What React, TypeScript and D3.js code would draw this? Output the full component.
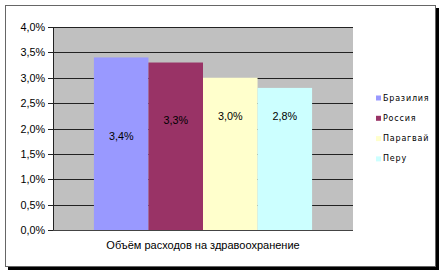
import React from "react";
import * as d3 from "d3";

const categories = ["Объём расходов на здравоохранение"];
const seriesNames = ["Бразилия", "Россия", "Парагвай", "Перу"];
const seriesValues = [0.034, 0.033, 0.03, 0.028];
const labelAnchors = [0.0185, 0.0217, 0.0225, 0.0225];
const seriesColors = ["#9999FF", "#993366", "#FFFFCC", "#CCFFFF"];
const yTicks = [0, 0.005, 0.01, 0.015, 0.02, 0.025, 0.03, 0.035, 0.04];

const W = 443;
const H = 273;
const plot = { left: 53, right: 353, top: 27, bottom: 230 };

const fmt = (v: number) => (v * 100).toFixed(1).replace(".", ",") + "%";

export default function App() {
  const y = d3.scaleLinear().domain([0, 0.04]).range([plot.bottom, plot.top]);
  const x0 = d3.scaleBand<string>().domain(categories).range([plot.left, plot.right]);
  const x1 = d3
    .scaleBand<string>()
    .domain(seriesNames)
    .range([0, x0.bandwidth()])
    .paddingInner(0)
    .paddingOuter(0.75);
  const font = "'Liberation Sans', Arial, sans-serif";
  return (
    <svg
      width={W}
      height={H}
      style={{ position: "absolute", left: 0, top: 0, background: "#fff" }}
    >
      {/* chart border with shadow */}
      <rect x={8} y={8} width={431} height={262} fill="#000" />
      <rect x={5.5} y={5.5} width={430} height={261} fill="#fff" stroke="#666" strokeWidth={1} />
      {/* plot area */}
      <rect
        x={plot.left}
        y={plot.top}
        width={plot.right - plot.left}
        height={plot.bottom - plot.top}
        fill="#C0C0C0"
      />
      {yTicks.map((t) => (
        <line
          key={"g" + t}
          x1={plot.left - 5}
          x2={plot.right}
          y1={Math.round(y(t)) + 0.5}
          y2={Math.round(y(t)) + 0.5}
          stroke="#222"
          strokeWidth={1}
        />
      ))}
      {categories.map((c) =>
        seriesNames.map((s, i) => {
          const bx = (x0(c) ?? 0) + (x1(s) ?? 0);
          return (
            <rect
              key={c + s}
              x={bx}
              y={y(seriesValues[i])}
              width={x1.bandwidth()}
              height={plot.bottom - y(seriesValues[i])}
              fill={seriesColors[i]}
            />
          );
        })
      )}
      {/* axes */}
      <line
        x1={plot.left + 0.5}
        x2={plot.left + 0.5}
        y1={plot.top}
        y2={plot.bottom + 1}
        stroke="#222"
      />
      <line
        x1={plot.left}
        x2={plot.right}
        y1={plot.bottom + 0.5}
        y2={plot.bottom + 0.5}
        stroke="#444"
      />
      {yTicks.map((t) => (
        <text
          key={"t" + t}
          x={45}
          y={y(t)}
          textAnchor="end"
          dominantBaseline="central"
          fontFamily={font}
          fontSize={10.8}
          fill="#000"
        >
          {fmt(t)}
        </text>
      ))}
      {/* data labels */}
      {categories.map((c) =>
        seriesNames.map((s, i) => {
          const cx = (x0(c) ?? 0) + (x1(s) ?? 0) + x1.bandwidth() / 2;
          return (
            <text
              key={"l" + s}
              x={cx}
              y={y(labelAnchors[i])}
              textAnchor="middle"
              dominantBaseline="central"
              fontFamily={font}
              fontSize={10.8}
              fill="#000"
            >
              {fmt(seriesValues[i])}
            </text>
          );
        })
      )}
      {/* category label */}
      {categories.map((c) => (
        <text
          key={c}
          x={(x0(c) ?? 0) + x0.bandwidth() / 2}
          y={245}
          textAnchor="middle"
          dominantBaseline="central"
          fontFamily={font}
          fontSize={11}
          fill="#000"
        >
          {c}
        </text>
      ))}
      {/* legend */}
      {seriesNames.map((s, i) => (
        <g key={"lg" + s} transform={`translate(376, ${98 + i * 20.3})`}>
          <rect x={0} y={-2.5} width={5} height={5} fill={seriesColors[i]} />
          <text
            x={7}
            y={0}
            dominantBaseline="central"
            fontFamily="'DejaVu Sans', Verdana, sans-serif"
            fontSize={8}
            letterSpacing={0.8}
            fill="#000"
          >
            {s}
          </text>
        </g>
      ))}
    </svg>
  );
}
